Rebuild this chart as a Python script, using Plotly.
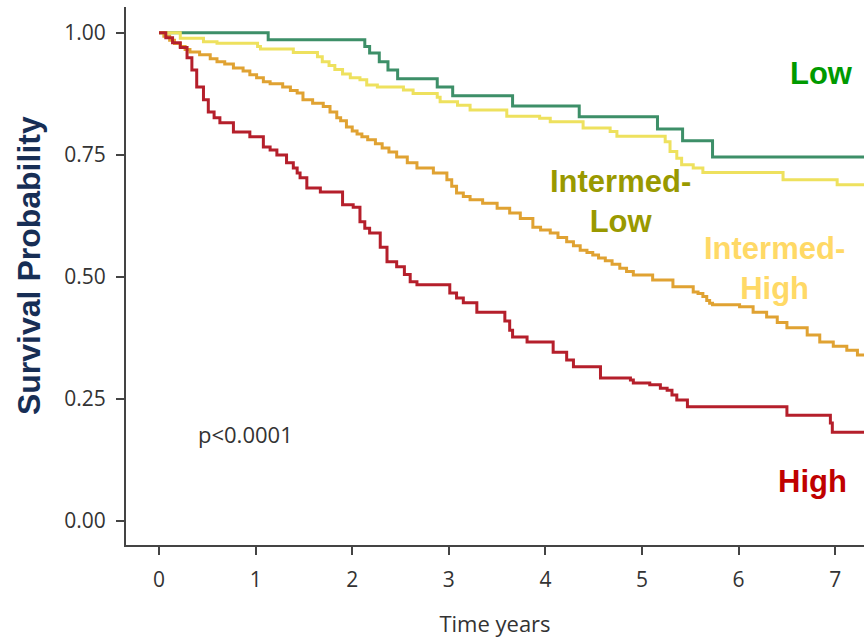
import plotly.graph_objects as go

# ---- data (time in years, survival probability; step functions) ----
low_t = [0, 1.13, 2.13, 2.18, 2.28, 2.37, 2.47, 2.88, 3.04, 3.66, 4.35, 5.16, 5.42, 5.73, 7.35]
low_s = [1.0, 0.986, 0.972, 0.959, 0.941, 0.924, 0.906, 0.889, 0.871, 0.850, 0.828, 0.803, 0.779, 0.746, 0.746]

il_t = [0, 0.22, 0.46, 0.60, 1.02, 1.05, 1.39, 1.64, 1.69, 1.76, 1.82, 1.90, 1.98, 2.08, 2.15, 2.26,
        2.53, 2.63, 2.88, 2.91, 3.09, 3.22, 3.60, 3.94, 4.05, 4.39, 4.67, 4.74, 5.24, 5.29, 5.36,
        5.41, 5.53, 5.63, 6.46, 7.02, 7.35]
il_s = [1.0, 0.989, 0.982, 0.979, 0.972, 0.967, 0.960, 0.951, 0.941, 0.933, 0.925, 0.916, 0.908, 0.904,
        0.893, 0.889, 0.883, 0.876, 0.868, 0.859, 0.852, 0.842, 0.829, 0.825, 0.818, 0.805, 0.798,
        0.788, 0.777, 0.757, 0.743, 0.730, 0.723, 0.714, 0.699, 0.689, 0.689]

ih_t = [0, 0.05, 0.11, 0.16, 0.22, 0.27, 0.32, 0.42, 0.53, 0.60, 0.68, 0.77, 0.87, 0.94, 1.01, 1.08,
        1.15, 1.28, 1.36, 1.43, 1.49, 1.59, 1.70, 1.77, 1.84, 1.88, 1.94, 2.00, 2.05, 2.10, 2.16,
        2.24, 2.31, 2.38, 2.46, 2.57, 2.67, 2.84, 2.98, 3.03, 3.08, 3.15, 3.22, 3.35, 3.50, 3.63,
        3.74, 3.87, 3.95, 4.05, 4.13, 4.22, 4.29, 4.36, 4.43, 4.49, 4.55, 4.62, 4.69, 4.77, 4.84,
        4.91, 5.11, 5.32, 5.53, 5.58, 5.63, 5.67, 5.70, 5.73, 6.01, 6.15, 6.29, 6.40, 6.50, 6.71,
        6.84, 6.98, 7.12, 7.23, 7.35]
ih_s = [1.0, 0.993, 0.985, 0.978, 0.972, 0.966, 0.961, 0.955, 0.947, 0.941, 0.936, 0.928, 0.922,
        0.914, 0.908, 0.900, 0.896, 0.889, 0.882, 0.877, 0.863, 0.856, 0.849, 0.838, 0.826, 0.820,
        0.807, 0.799, 0.793, 0.787, 0.781, 0.773, 0.764, 0.756, 0.746, 0.734, 0.723, 0.713, 0.699,
        0.686, 0.672, 0.665, 0.658, 0.651, 0.641, 0.631, 0.620, 0.602, 0.596, 0.590, 0.581, 0.572,
        0.564, 0.555, 0.550, 0.545, 0.539, 0.533, 0.526, 0.518, 0.511, 0.504, 0.494, 0.480, 0.469,
        0.466, 0.460, 0.452, 0.446, 0.443, 0.439, 0.428, 0.418, 0.407, 0.396, 0.381, 0.367, 0.358,
        0.350, 0.340, 0.334]

high_t = [0, 0.07, 0.14, 0.22, 0.29, 0.34, 0.39, 0.46, 0.51, 0.57, 0.63, 0.77, 0.94, 1.08, 1.15,
          1.22, 1.32, 1.39, 1.43, 1.46, 1.53, 1.67, 1.90, 2.01, 2.08, 2.13, 2.18, 2.29, 2.36, 2.46,
          2.54, 2.60, 2.67, 3.01, 3.08, 3.15, 3.29, 3.58, 3.63, 3.66, 3.81, 4.08, 4.22, 4.29, 4.57,
          4.88, 4.91, 5.08, 5.19, 5.26, 5.31, 5.36, 5.47, 6.50, 6.95, 6.97, 7.35]
high_s = [1.0, 0.99, 0.98, 0.97, 0.949, 0.924, 0.889, 0.863, 0.838, 0.826, 0.816, 0.797, 0.787, 0.766,
          0.760, 0.750, 0.734, 0.723, 0.713, 0.703, 0.682, 0.674, 0.648, 0.643, 0.613, 0.600, 0.590,
          0.561, 0.531, 0.521, 0.505, 0.490, 0.484, 0.467, 0.457, 0.447, 0.428, 0.410, 0.391, 0.377,
          0.367, 0.346, 0.330, 0.316, 0.293, 0.289, 0.283, 0.279, 0.272, 0.268, 0.258, 0.248, 0.234,
          0.217, 0.201, 0.182, 0.182]

x_ticks = [0, 1, 2, 3, 4, 5, 6, 7]
y_ticks = [0.0, 0.25, 0.5, 0.75, 1.0]
y_tick_labels = ["0.00", "0.25", "0.50", "0.75", "1.00"]

series = [
    ("Low", low_t, low_s, "#3D8F68"),
    ("Intermed-Low", il_t, il_s, "#EEE15E"),
    ("Intermed-High", ih_t, ih_s, "#E0A232"),
    ("High", high_t, high_s, "#B51F2B"),
]

fig = go.Figure()
for name, t, s, col in series:
    fig.add_trace(go.Scatter(x=t, y=s, mode="lines", name=name,
                             line=dict(color=col, width=3, shape="hv"),
                             showlegend=False))

tick_font = dict(family="Open Sans", size=21, color="#333333")
label_font = "Liberation Sans, Arial, sans-serif"

fig.update_layout(
    width=864, height=638,
    margin=dict(l=126, r=0, t=7, b=93),
    paper_bgcolor="white", plot_bgcolor="white",
    xaxis=dict(range=[-0.342, 7.298], tickvals=x_ticks, showgrid=False, zeroline=False,
               showline=True, linecolor="#444444", linewidth=2,
               ticks="outside", ticklen=8, tickwidth=2, tickcolor="#444444",
               tickfont=tick_font, ticklabelstandoff=7,
               title=dict(text="Time years", font=dict(family="Open Sans", size=22, color="#333333"),
                          standoff=24)),
    yaxis=dict(range=[-0.049, 1.053], tickvals=y_ticks, ticktext=y_tick_labels,
               showgrid=False, zeroline=False,
               showline=True, linecolor="#444444", linewidth=2,
               ticks="outside", ticklen=8, tickwidth=2, tickcolor="#444444",
               tickfont=tick_font, ticklabelstandoff=6),
)

# y-axis title placed as rotated text
fig.add_annotation(x=-0.1314, y=0.5186, xref="paper", yref="paper", text="<b>Survival Probability</b>",
                   textangle=-90, showarrow=False, xanchor="center", yanchor="middle",
                   font=dict(family=label_font, size=32, color="#172E55"))

annots = [
    ("<b>Low</b>", 6.86, 0.917, "#009A00"),
    ("<b>Intermed-<br>Low</b>", 4.78, 0.654, "#999900"),
    ("<b>Intermed-<br>High</b>", 6.37, 0.518, "#FFD966"),
    ("<b>High</b>", 6.76, 0.082, "#C00000"),
]
for txt, x, y, col in annots:
    fig.add_annotation(x=x, y=y, text=txt, showarrow=False, xanchor="center", yanchor="middle",
                       font=dict(family=label_font, size=31, color=col))

fig.add_annotation(x=0.89, y=0.178, text="p<0.0001", showarrow=False, xanchor="center",
                   yanchor="middle", font=dict(family="Open Sans", size=22, color="#333333"))

fig.write_html("out.html")
